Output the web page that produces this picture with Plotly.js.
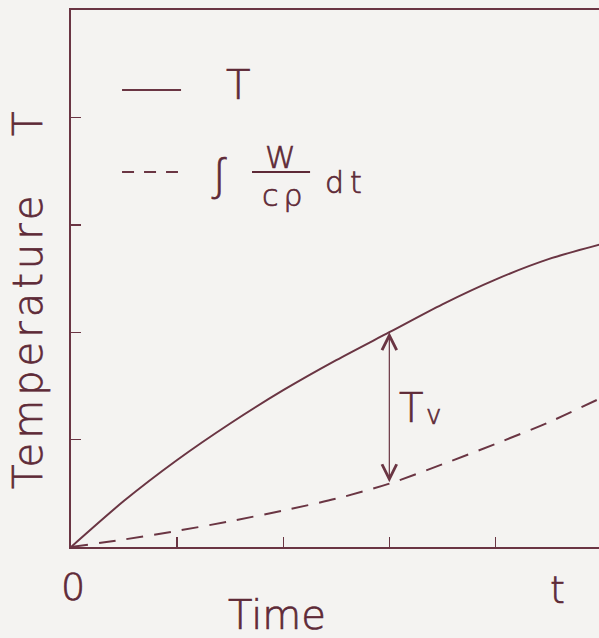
<!DOCTYPE html>
<html>
<head>
<meta charset="utf-8">
<script src="https://cdn.plot.ly/plotly-3.0.1.min.js"></script>
<style>
  html, body { margin: 0; padding: 0; background: #f4f3f1; overflow: hidden; }
  #chart { width: 599px; height: 638px; }
  /* slightly heavier strokes for the thin lettering */
  #chart .annotation-text { paint-order: stroke; stroke: #5e2a37; stroke-width: 0.7px; }
</style>
</head>
<body>
<div id="chart"></div>
<script>
// Time axis samples (arbitrary units)
const time = [0, 0.5, 1.0, 1.5, 2.0, 2.5, 3.0, 3.5, 4.0, 4.5, 5.0];
// Temperature T
const temperature = [0, 0.43, 0.81, 1.15, 1.46, 1.74, 2.00, 2.26, 2.49, 2.68, 2.82];
// Integral of W/(c rho) over time
const heatIntegral = [0, 0.07, 0.15, 0.24, 0.34, 0.45, 0.59, 0.77, 0.96, 1.16, 1.39];
// Time at which the difference Tv is marked
const markTime = 3.0;
// Tick positions on both axes
const xTicks = [1, 2, 3, 4];
const yTicks = [1, 2, 3, 4];

const ink = '#5e2a37';
const lineInk = '#6a3543';
const fontFamily = '"DejaVu Sans", "Open Sans", sans-serif';

const k = time.indexOf(markTime);

const traces = [
  {
    x: time, y: temperature, type: 'scatter', mode: 'lines',
    line: {color: lineInk, width: 2, shape: 'spline', smoothing: 0.8},
    hoverinfo: 'skip', showlegend: false
  },
  {
    x: time, y: heatIntegral, type: 'scatter', mode: 'lines',
    line: {color: lineInk, width: 2, shape: 'spline', smoothing: 0.8, dash: '17px,11px'},
    hoverinfo: 'skip', showlegend: false
  }
];

function txt(text, x, y, size, extra) {
  return Object.assign({
    text: text, x: x, y: y, xref: 'x', yref: 'y',
    showarrow: false, xanchor: 'center', yanchor: 'middle',
    font: {family: fontFamily, size: size, color: ink, weight: 200}
  }, extra || {});
}
const spaced = (s, px) => '<span style="letter-spacing:' + px + 'px">' + s + '</span>';
const onPaper = {xref: 'paper', yref: 'paper'};

const annotations = [
  // legend labels
  txt('T', 1.574, 4.30, 40),
  txt('∫', 1.395, 3.464, 42),
  txt('W', 1.979, 3.631, 31),
  txt(spaced('cρ', 5), 2.02, 3.277, 30),
  txt(spaced('dt', 6), 2.60, 3.398, 30),
  // Tv label
  txt('T', 3.204, 1.294, 40),
  txt('v', 3.415, 1.230, 26),
  // axis end labels
  txt('0', 0.004, -0.0745, 38, onPaper),
  txt('t', 0.9205, -0.080, 38, onPaper),
  // axis titles
  txt('Time', 0.390, -0.1266, 40, onPaper),
  txt(spaced('Temperature', 4), -0.0814, 0.3836, 40, Object.assign({textangle: -90}, onPaper)),
  txt('T', -0.0814, 0.7877, 40, Object.assign({textangle: -90}, onPaper)),
  // double arrow marking Tv
  {
    x: markTime, y: temperature[k], ax: markTime, ay: heatIntegral[k],
    xref: 'x', yref: 'y', axref: 'x', ayref: 'y', text: '',
    showarrow: true, arrowside: 'end+start', arrowhead: 5, startarrowhead: 5,
    arrowsize: 2.4, startarrowsize: 2.4, arrowwidth: 1.2, arrowcolor: lineInk,
    standoff: 0, startstandoff: 0
  }
];

const shapes = [
  // legend sample: solid
  {type: 'line', xref: 'x', yref: 'y', x0: 0.481, x1: 1.037, y0: 4.255, y1: 4.255,
   line: {color: lineInk, width: 2}},
  // legend sample: dashed
  {type: 'line', xref: 'x', yref: 'y', x0: 0.481, x1: 1.008, y0: 3.492, y1: 3.492,
   line: {color: lineInk, width: 2, dash: '12px,10px'}},
  // fraction bar of W / (c rho)
  {type: 'line', xref: 'x', yref: 'y', x0: 1.706, x1: 2.253, y0: 3.492, y1: 3.492,
   line: {color: ink, width: 2}}
];

const axisCommon = {
  showgrid: false, zeroline: false, showline: true,
  linecolor: lineInk, linewidth: 1.6,
  ticks: 'inside', ticklen: 10, tickwidth: 1.4, tickcolor: lineInk,
  showticklabels: false, fixedrange: true
};

const layout = {
  width: 599, height: 638,
  margin: {l: 71, r: 0, t: 10, b: 91},
  paper_bgcolor: '#f4f3f1', plot_bgcolor: '#f4f3f1',
  showlegend: false,
  xaxis: Object.assign({}, axisCommon, {range: [0, 4.976], tickvals: xTicks, mirror: true}),
  yaxis: Object.assign({}, axisCommon, {range: [0, 5], tickvals: yTicks}),
  annotations: annotations,
  shapes: shapes
};

Plotly.newPlot('chart', traces, layout, {staticPlot: true, displayModeBar: false});
</script>
</body>
</html>
